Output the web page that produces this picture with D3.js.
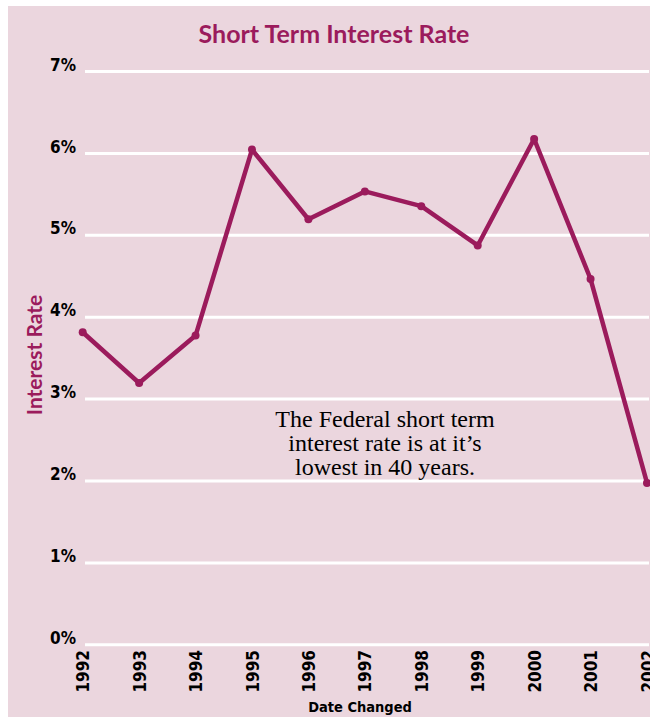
<!DOCTYPE html>
<html><head><meta charset="utf-8">
<script src="https://cdn.jsdelivr.net/npm/d3@7"></script>
<style>html,body{margin:0;padding:0;background:#fff;overflow:hidden}</style>
</head><body>
<svg id="c" width="650" height="717"></svg>
<script>
const years = [1992,1993,1994,1995,1996,1997,1998,1999,2000,2001,2002];
const rates = [3.81,3.19,3.77,6.04,5.19,5.53,5.35,4.87,6.17,4.46,1.97];
const yTicks = [0,1,2,3,4,5,6,7];
const title = "Short Term Interest Rate";
const xTitle = "Date Changed";
const yTitle = "Interest Rate";
const note = ["The Federal short term","interest rate is at it\u2019s","lowest in 40 years."];

const W=650,H=717;
const svg=d3.select("#c");
const plum="#9b1b5c";
svg.append("rect").attr("x",8).attr("y",6).attr("width",W-8).attr("height",H-6).attr("fill","#ebd6de");

const x=d3.scaleLinear().domain([1992,2002]).range([82.7,647]);
const y=d3.scaleLinear().domain([0,7]).range([644.3,71]);

// gridlines
const grid=svg.append("g").attr("transform","translate(85,0)")
  .call(d3.axisRight(y).tickValues(yTicks).tickSize(W-86).tickFormat(""));
grid.select(".domain").remove();
grid.selectAll("line").attr("stroke","#fff").attr("stroke-width",3);

// y labels
const ya=svg.append("g").attr("transform","translate(76,0)")
  .call(d3.axisLeft(y).tickValues(yTicks).tickSize(0).tickPadding(0).tickFormat(d=>d+"%"));
ya.select(".domain").remove();
ya.selectAll("text").attr("font-family","DejaVu Sans Condensed, DejaVu Sans").attr("font-weight","bold")
  .attr("font-size",17).attr("fill","#000").attr("dy","-0.05em");

// x labels
const xa=svg.append("g").attr("transform","translate(0,650)")
  .call(d3.axisBottom(x).tickValues(years).tickSize(0).tickPadding(0).tickFormat(d3.format("d")));
xa.select(".domain").remove();
xa.selectAll("text").attr("font-family","DejaVu Sans Condensed, DejaVu Sans").attr("font-weight","bold")
  .attr("font-size",17).attr("fill","#000")
  .attr("text-anchor","end").attr("transform","rotate(-90)").attr("x",0).attr("y",0).attr("dy","0.36em");

// line
const line=d3.line().x((d,i)=>x(years[i])).y(d=>y(d));
svg.append("path").datum(rates).attr("d",line).attr("fill","none")
  .attr("stroke",plum).attr("stroke-width",4.5).attr("stroke-linejoin","round");
svg.selectAll("circle.p").data(rates).join("circle").attr("class","p")
  .attr("cx",(d,i)=>x(years[i])).attr("cy",d=>y(d)).attr("r",4).attr("fill",plum);

// title
svg.append("text").attr("x",334).attr("y",43).attr("text-anchor","middle")
  .attr("font-family","Lato, Open Sans, sans-serif").attr("font-weight","bold").attr("font-size",25)
  .attr("fill",plum).text(title);

svg.append("text").attr("x",360).attr("y",712).attr("text-anchor","middle")
  .attr("font-family","DejaVu Sans Condensed, DejaVu Sans").attr("font-weight","bold").attr("font-size",14.5)
  .attr("fill","#000").text(xTitle);

svg.append("text").attr("transform","translate(42,355) rotate(-90)").attr("text-anchor","middle")
  .attr("font-family","Lato, Open Sans, sans-serif").attr("font-weight","bold").attr("font-size",21)
  .attr("fill",plum).text(yTitle);

const nt=svg.append("text").attr("text-anchor","middle")
  .attr("font-family","Liberation Serif, DejaVu Serif, serif").attr("font-size",24).attr("fill","#000");
note.forEach((t,i)=>nt.append("tspan").attr("x",385).attr("y",427+i*24).text(t));
</script>
</body></html>
